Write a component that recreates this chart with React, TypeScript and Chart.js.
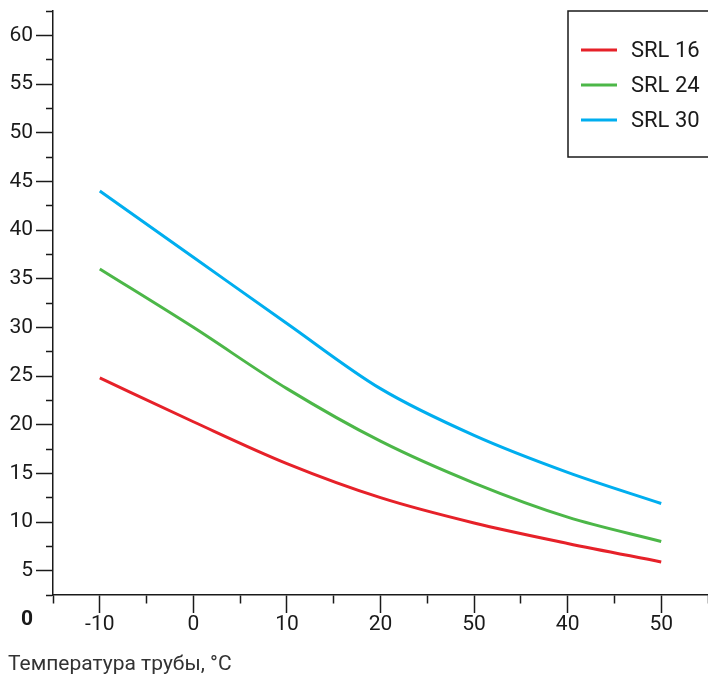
import { useEffect, useRef } from "react";
import { Chart, registerables } from "chart.js";

Chart.register(...registerables);

// ---- data ----
const xValues = [-10, 0, 10, 20, 30, 40, 50];
const xTickLabels = ["-10", "0", "10", "20", "50", "40", "50"];
const seriesLabels = ["SRL 16", "SRL 24", "SRL 30"];
const srl16 = [24.8, 20.3, 16.0, 12.5, 9.9, 7.8, 5.9];
const srl24 = [36, 30, 23.7, 18.3, 14, 10.5, 8];
const srl30 = [44, 37.2, 30.4, 23.7, 18.9, 15.1, 11.9];
const yOriginLabel = 0;
const axisTitle = "Температура трубы, °C";

const seriesValues = [srl16, srl24, srl30];
const seriesColors = ["#e62129", "#4cb748", "#00aeef"];

const TICK_FONT = '"Roboto", sans-serif';
const INK = "#1a1a1a";

const boxLegend = {
  id: "boxLegend",
  afterDatasetsDraw(chart: any) {
    const { ctx, chartArea } = chart;
    const x0 = chartArea.right - 140;
    const y0 = chartArea.top;
    const h = 146;
    ctx.save();
    ctx.fillStyle = "#ffffff";
    ctx.fillRect(x0, y0, 160, h);
    ctx.strokeStyle = INK;
    ctx.lineWidth = 1.5;
    ctx.strokeRect(x0, y0, 160, h);
    chart.data.datasets.forEach((ds: any, i: number) => {
      const y = y0 + 39 + i * 35;
      ctx.strokeStyle = ds.borderColor;
      ctx.lineWidth = 3;
      ctx.beginPath();
      ctx.moveTo(x0 + 13, y);
      ctx.lineTo(x0 + 49, y);
      ctx.stroke();
      ctx.fillStyle = INK;
      ctx.font = `22px ${TICK_FONT}`;
      ctx.textAlign = "left";
      ctx.textBaseline = "middle";
      ctx.fillText(ds.label, x0 + 63, y + 1);
    });
    ctx.restore();
  },
};

export default function App() {
  const ref = useRef<HTMLCanvasElement | null>(null);

  useEffect(() => {
    if (!ref.current) return;
    const chart = new Chart(ref.current, {
      type: "line",
      data: {
        datasets: seriesLabels.map((label, i) => ({
          label,
          data: xValues.map((x, j) => ({ x, y: seriesValues[i][j] })),
          borderColor: seriesColors[i],
          backgroundColor: seriesColors[i],
          borderWidth: 3,
          pointRadius: 0,
          tension: 0.4,
          cubicInterpolationMode: "monotone" as const,
          fill: false,
        })),
      },
      options: {
        animation: false,
        responsive: false,
        layout: { padding: { left: 8, top: 11, right: 0, bottom: 0 } },
        plugins: {
          legend: { display: false },
          tooltip: { enabled: false },
          title: {
            display: true,
            text: axisTitle,
            position: "bottom",
            align: "start",
            color: "#333",
            font: { family: "Roboto", size: 21, weight: "normal", lineHeight: 1.2 },
            padding: { top: 0, bottom: 1.4 },
          },
        },
        scales: {
          x: {
            type: "linear",
            min: -15,
            max: 55,
            afterFit: (s: any) => {
              s.height = 57.4;
              s.paddingLeft = 0;
              s.paddingRight = 0;
            },
            ticks: {
              stepSize: 5,
              autoSkip: false,
              maxRotation: 0,
              padding: -1,
              color: INK,
              font: { family: TICK_FONT, size: 21 },
              callback: (v: any) => {
                const idx = xValues.indexOf(Number(v));
                return idx >= 0 ? xTickLabels[idx] : "";
              },
            },
            grid: {
              drawOnChartArea: false,
              drawTicks: true,
              tickLength: 18,
              tickWidth: 1.5,
              tickColor: INK,
              tickBorderDash: (ctx: any) =>
                ctx.tick && Number(ctx.tick.value) % 10 === 0 ? [] : [8, 100],
            } as any,
            border: { display: true, color: INK, width: 1.5 },
          },
          y: {
            type: "linear",
            min: 2.5,
            max: 62.5,
            afterBuildTicks: (s: any) => {
              s.ticks.unshift({ value: yOriginLabel });
            },
            afterFit: (s: any) => {
              s.width = 45;
              s.paddingTop = 0;
              s.paddingBottom = 0;
            },
            ticks: {
              stepSize: 2.5,
              autoSkip: false,
              padding: 3,
              color: INK,
              font: (ctx: any) =>
                ({
                  family: TICK_FONT,
                  size: 21,
                  weight: ctx.tick && ctx.tick.value === yOriginLabel ? "bold" : "normal",
                }) as any,
              callback: (v: any) => {
                const n = Number(v);
                return n % 5 === 0 ? String(n) : "";
              },
            },
            grid: {
              drawOnChartArea: false,
              drawTicks: true,
              tickLength: 17,
              tickWidth: 1.5,
              tickColor: (ctx: any) =>
                ctx.tick && ctx.tick.value === yOriginLabel ? "rgba(0,0,0,0)" : INK,
              tickBorderDash: (ctx: any) =>
                ctx.tick && Number(ctx.tick.value) % 5 === 0 ? [] : [0, 10, 7, 100],
            } as any,
            border: { display: true, color: INK, width: 1.5 },
          },
        },
      } as any,
      plugins: [boxLegend],
    });
    return () => chart.destroy();
  }, []);

  return (
    <div style={{ position: "absolute", left: 0, top: 0, width: 708, height: 679, background: "#fff" }}>
      <canvas ref={ref} width={708} height={679} style={{ width: 708, height: 679, display: "block" }} />
    </div>
  );
}
